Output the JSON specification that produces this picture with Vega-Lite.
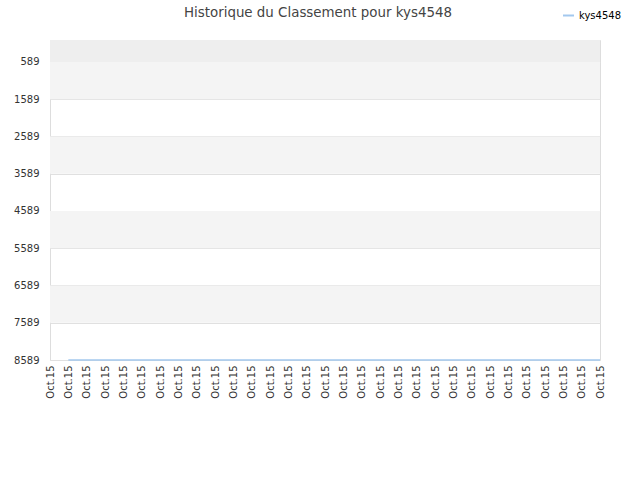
{
  "$schema": "https://vega.github.io/schema/vega-lite/v6.json",
  "width": 550,
  "height": 320,
  "autosize": {"type": "none"},
  "padding": {"left": 50, "top": 40, "right": 40, "bottom": 120},
  "title": {
    "text": "Historique du Classement pour kys4548",
    "font": "DejaVu Sans",
    "fontSize": 13.4,
    "fontWeight": "normal",
    "color": "#444444",
    "offset": -10,
    "dx": -7
  },
  "config": {
    "view": {"stroke": "#dddddd"},
    "axis": {
      "labelFont": "DejaVu Sans",
      "labelFontSize": 10,
      "labelColor": "#333333",
      "domain": false,
      "ticks": false
    },
    "legend": {"labelFont": "DejaVu Sans", "labelFontSize": 10, "labelColor": "#000000"}
  },
  "layer": [
    {
      "data": {
        "values": [
          {"lo": 0, "hi": 589, "shade": "a"},
          {"lo": 589, "hi": 1589, "shade": "b"},
          {"lo": 2589, "hi": 3589, "shade": "b"},
          {"lo": 4589, "hi": 5589, "shade": "b"},
          {"lo": 6589, "hi": 7589, "shade": "b"}
        ]
      },
      "mark": {"type": "rect"},
      "encoding": {
        "x": {
          "datum": 0,
          "type": "quantitative",
          "scale": {"domain": [0, 30], "nice": false, "zero": false},
          "axis": {
            "title": null,
            "grid": false,
            "values": [0,1,2,3,4,5,6,7,8,9,10,11,12,13,14,15,16,17,18,19,20,21,22,23,24,25,26,27,28,29,30],
            "labelExpr": "'Oct.15'",
            "labelAngle": -90,
            "labelAlign": "right",
            "labelBaseline": "middle",
            "labelPadding": 5,
            "labelOverlap": false
          }
        },
        "x2": {"datum": 30},
        "y": {
          "field": "lo",
          "type": "quantitative",
          "scale": {"domain": [0, 8589], "reverse": true, "nice": false, "zero": false},
          "axis": {
            "title": null,
            "values": [589, 1589, 2589, 3589, 4589, 5589, 6589, 7589, 8589],
            "format": "d",
            "labelOverlap": false,
            "gridColor": "#e0e0e0",
            "labelPadding": 11
          }
        },
        "y2": {"field": "hi"},
        "fill": {
          "field": "shade",
          "type": "nominal",
          "scale": {"domain": ["a", "b"], "range": ["#eeeeee", "#f4f4f4"]},
          "legend": null
        }
      }
    },
    {
      "data": {
        "values": [
          {"i": 1, "rank": 8589}, {"i": 2, "rank": 8589}, {"i": 3, "rank": 8589},
          {"i": 4, "rank": 8589}, {"i": 5, "rank": 8589}, {"i": 6, "rank": 8589},
          {"i": 7, "rank": 8589}, {"i": 8, "rank": 8589}, {"i": 9, "rank": 8589},
          {"i": 10, "rank": 8589}, {"i": 11, "rank": 8589}, {"i": 12, "rank": 8589},
          {"i": 13, "rank": 8589}, {"i": 14, "rank": 8589}, {"i": 15, "rank": 8589},
          {"i": 16, "rank": 8589}, {"i": 17, "rank": 8589}, {"i": 18, "rank": 8589},
          {"i": 19, "rank": 8589}, {"i": 20, "rank": 8589}, {"i": 21, "rank": 8589},
          {"i": 22, "rank": 8589}, {"i": 23, "rank": 8589}, {"i": 24, "rank": 8589},
          {"i": 25, "rank": 8589}, {"i": 26, "rank": 8589}, {"i": 27, "rank": 8589},
          {"i": 28, "rank": 8589}, {"i": 29, "rank": 8589}, {"i": 30, "rank": 8589}
        ]
      },
      "mark": {"type": "line", "strokeWidth": 1.5},
      "encoding": {
        "x": {
          "field": "i",
          "type": "quantitative",
          "scale": {"domain": [0, 30], "nice": false, "zero": false},
          "axis": {
            "title": null,
            "grid": false,
            "values": [0,1,2,3,4,5,6,7,8,9,10,11,12,13,14,15,16,17,18,19,20,21,22,23,24,25,26,27,28,29,30],
            "labelExpr": "'Oct.15'",
            "labelAngle": -90,
            "labelAlign": "right",
            "labelBaseline": "middle",
            "labelPadding": 5,
            "labelOverlap": false
          }
        },
        "y": {
          "field": "rank",
          "type": "quantitative",
          "scale": {"domain": [0, 8589], "reverse": true, "nice": false, "zero": false},
          "axis": {
            "title": null,
            "values": [589, 1589, 2589, 3589, 4589, 5589, 6589, 7589, 8589],
            "format": "d",
            "labelOverlap": false,
            "gridColor": "#e0e0e0",
            "labelPadding": 11
          }
        },
        "color": {
          "datum": "kys4548",
          "type": "nominal",
          "scale": {"range": ["#a3c8ee"]},
          "legend": {
            "title": null,
            "orient": "none",
            "legendX": 512,
            "legendY": -31,
            "symbolType": "stroke",
            "symbolSize": 120,
            "symbolStrokeWidth": 2
          }
        }
      }
    }
  ]
}
